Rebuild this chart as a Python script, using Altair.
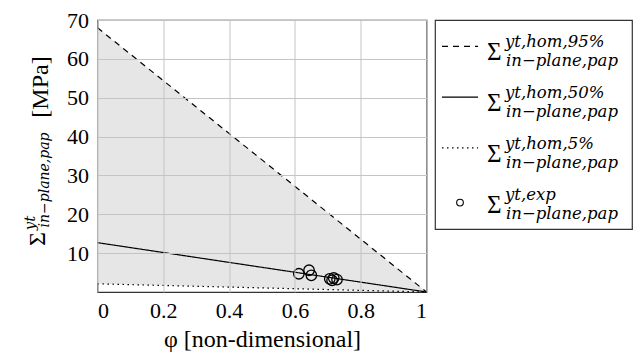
import altair as alt
import pandas as pd

# ---- data -------------------------------------------------------------
phi_line = [0.0, 1.0]
sig_95 = [68.0, 0.0]
sig_50 = [12.7, 0.0]
sig_5 = [2.1, 0.0]

phi_exp = [0.612, 0.643, 0.650, 0.706, 0.713, 0.718, 0.728]
sig_exp = [4.7, 5.6, 4.3, 3.4, 3.0, 3.6, 3.2]

x_ticks = [0, 0.2, 0.4, 0.6, 0.8, 1]
y_ticks = [10, 20, 30, 40, 50, 60, 70]

series_names = ["95%", "50%", "5%"]
legend_sup = ["yt,hom,95%", "yt,hom,50%", "yt,hom,5%", "yt,exp"]
legend_sub = "in\u2212plane,pap"

SERIF = "Liberation Serif"
ITAL = "DejaVu Serif"

# ---- tables -----------------------------------------------------------
band = pd.DataFrame({"phi": phi_line, "hi": sig_95, "lo": sig_5})
lines = pd.DataFrame({
    "phi": phi_line * 3,
    "sig": sig_95 + sig_50 + sig_5,
    "series": [s for s in series_names for _ in phi_line],
})
exp = pd.DataFrame({"phi": phi_exp, "sig": sig_exp})

xscale = alt.Scale(domain=[0, 1], nice=False)
yscale = alt.Scale(domain=[0, 70], nice=False)

xax = alt.Axis(values=x_ticks, format="~g", title="\u03c6 [non-dimensional]",
               grid=True, ticks=False, domain=False, labelPadding=8,
               titlePadding=6, zindex=1, labelFont=SERIF, titleFont=SERIF)
yax = alt.Axis(values=y_ticks, title=None, grid=True, ticks=False,
               domain=False, labelPadding=9, zindex=1, labelFont=SERIF)

area = alt.Chart(band).mark_area(color="#e6e6e6", opacity=1).encode(
    x=alt.X("phi:Q", scale=xscale, axis=xax),
    y=alt.Y("hi:Q", scale=yscale, axis=yax),
    y2="lo:Q",
)

line = alt.Chart(lines).mark_line(color="black", strokeWidth=1.2).encode(
    x="phi:Q",
    y="sig:Q",
    strokeDash=alt.StrokeDash(
        "series:N",
        scale=alt.Scale(domain=series_names, range=[[6, 5], [1, 0], [1.5, 3.5]]),
        legend=None,
    ),
)

pts = alt.Chart(exp).mark_point(shape="circle", filled=False, color="black",
                                size=110, strokeWidth=1.3, opacity=1).encode(
    x="phi:Q", y="sig:Q"
)


def ytext(txt, x, y, size, font, style="normal"):
    return alt.Chart(pd.DataFrame({"t": [txt]})).mark_text(
        angle=270, align="center", baseline="middle", fontSize=size,
        font=font, fontStyle=style, color="black"
    ).encode(x=alt.value(x), y=alt.value(y), text="t:N")


ytitle = (
    ytext("\u03a3", -60, 219, 24, SERIF)
    + ytext("yt", -68, 203, 15, ITAL, "italic")
    + ytext(legend_sub, -53, 160, 14, ITAL, "italic")
    + ytext("[MPa]", -57, 67, 24, SERIF)
)

main = (area + line + pts + ytitle).properties(width=329, height=272)

# ---- legend panel -----------------------------------------------------
leg = pd.DataFrame({
    "row": [0, 1, 2, 3],
    "sup": legend_sup,
    "sub": [legend_sub] * 4,
    "series": series_names + ["exp"],
})
rowscale = alt.Scale(type="point", domain=[0, 1, 2, 3], padding=0.56)
Y = alt.Y("row:O", scale=rowscale, axis=None)

leg_lines = alt.Chart(leg).transform_filter("datum.row < 3").mark_rule(
    color="black", strokeWidth=1.2, yOffset=-2
).encode(
    y=Y,
    x=alt.value(7), x2=alt.value(43),
    strokeDash=alt.StrokeDash(
        "series:N",
        scale=alt.Scale(domain=series_names, range=[[6, 5], [1, 0], [1.5, 3.5]]),
        legend=None,
    ),
)
leg_pt = alt.Chart(leg).transform_filter("datum.row == 3").mark_point(
    shape="circle", filled=False, color="black", size=45, strokeWidth=1.1,
    opacity=1, yOffset=2
).encode(y=Y, x=alt.value(25))

leg_sigma = alt.Chart(leg).mark_text(
    align="left", baseline="middle", fontSize=25, font=SERIF, color="black", dy=4
).encode(y=Y, x=alt.value(52), text=alt.value("\u03a3"))
leg_sup = alt.Chart(leg).mark_text(
    align="left", baseline="alphabetic", fontSize=16.5, font=ITAL,
    fontStyle="italic", color="black", dy=-1
).encode(y=Y, x=alt.value(70), text="sup:N")
leg_sub = alt.Chart(leg).mark_text(
    align="left", baseline="alphabetic", fontSize=16.5, font=ITAL,
    fontStyle="italic", color="black", dy=18
).encode(y=Y, x=alt.value(71), text="sub:N")

legend = (leg_lines + leg_pt + leg_sigma + leg_sup + leg_sub).properties(
    width=197, height=209
)

chart = alt.hconcat(main, legend, spacing=4.5).properties(
    padding={"left": 13.5, "top": 0, "right": 0, "bottom": 0}
).configure_view(
    stroke="#333333", strokeWidth=1.2, fill="white"
).configure_axis(
    labelFont=SERIF, labelFontSize=22, labelColor="black",
    titleFont=SERIF, titleFontSize=24, titleFontWeight="normal",
    titleColor="black", gridColor="#c4c4c4", gridWidth=1,
)

chart.save("out.html", embed_options={"renderer": "svg", "actions": False})
